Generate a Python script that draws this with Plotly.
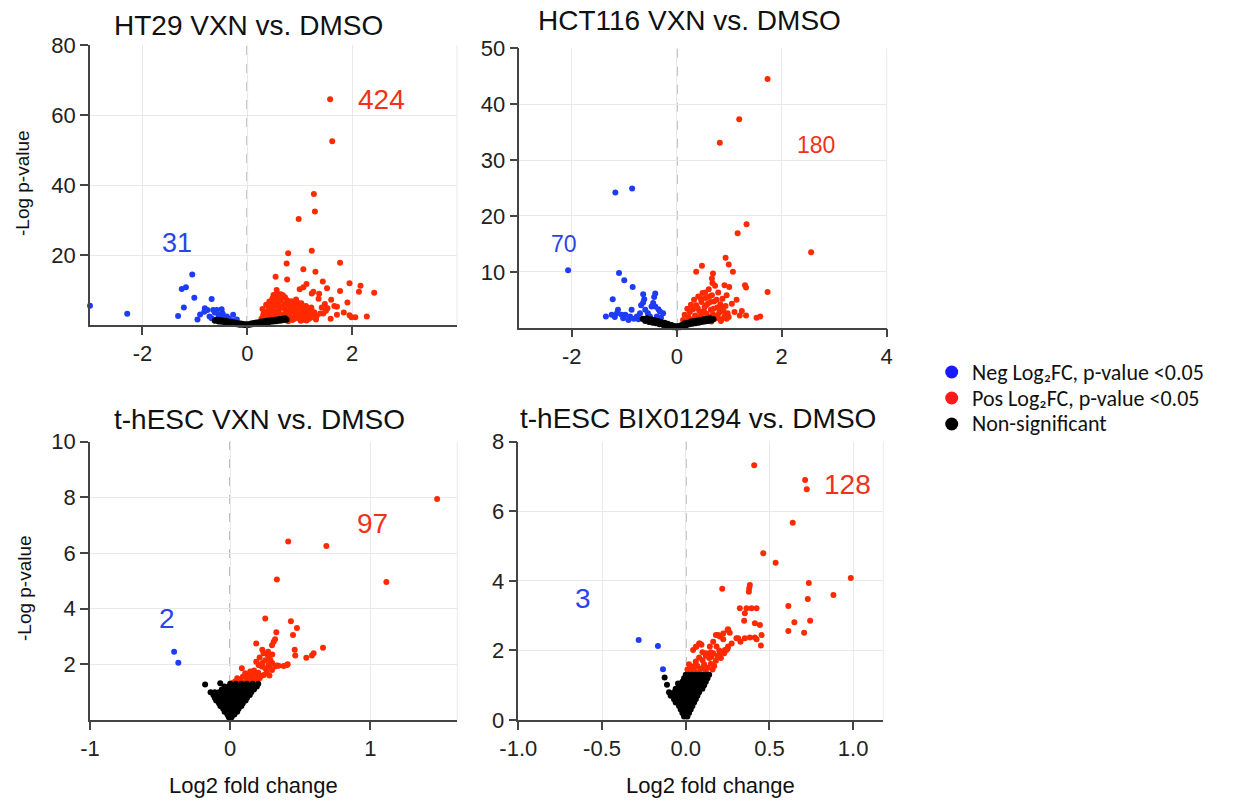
import plotly.graph_objects as go

W, H = 1242, 801

# ---------------- data (log2 fold change, -log p-value) ----------------
ht29_neg = [(-3.0, 5.5), (-2.29, 3.2), (-1.05, 14.4), (-1.25, 10.3), (-1.17, 10.8), (-1.01, 7.8),
            (-1.21, 5.0), (-1.32, 2.6), (-0.95, 1.6), (-0.68, 7.4), (-0.81, 4.8), (-0.82, 3.8),
            (-0.76, 4.3), (-0.58, 4.3), (-0.49, 4.5), (-0.47, 3.3), (-0.68, 1.9), (-0.55, 2.9),
            (-0.27, 2.9), (-0.20, 1.6), (-0.39, 2.4), (-0.65, 4.3), (-0.60, 1.5), (-0.45, 1.2),
            (-0.35, 1.8), (-0.90, 3.0), (-0.72, 2.4), (-0.52, 2.2), (-0.30, 1.3), (-0.62, 3.6), (-0.42, 2.0)]
ht29_pos = [(1.58, 64.5), (1.62, 52.5), (1.27, 37.4), (1.29, 32.4), (0.98, 30.3), (0.78, 20.5), (1.23, 21.2),
            (0.75, 17.6), (1.77, 17.8), (1.07, 15.9), (1.30, 15.2), (0.54, 13.8), (0.76, 13.0), (1.44, 12.4),
            (1.95, 11.9), (2.16, 11.2), (2.13, 9.5), (2.42, 9.2), (1.77, 9.7), (1.52, 10.5), (1.13, 11.7),
            (1.00, 10.2), (1.07, 10.8), (1.23, 9.0), (1.37, 8.9), (0.56, 10.0), (1.91, 6.4), (1.71, 5.2),
            (1.48, 6.0), (1.53, 4.8), (1.42, 5.0), (1.71, 2.9), (1.95, 2.8), (2.06, 2.2), (1.99, 2.2),
            (2.28, 2.4), (1.59, 1.8), (1.45, 3.3), (1.50, 4.1), (1.32, 2.4), (1.39, 3.3), (1.26, 9.5),
            (1.36, 7.5), (1.60, 7.2), (1.84, 3.6), (1.66, 5.4),
            (0.27, 1.8), (0.31, 3.2), (0.29, 4.6), (0.34, 2.4), (0.36, 5.8), (0.38, 1.2), (0.41, 3.9),
            (0.42, 6.7), (0.45, 2.1), (0.47, 4.8), (0.48, 7.6), (0.51, 1.5), (0.52, 3.3), (0.54, 5.5),
            (0.55, 8.2), (0.57, 2.6), (0.59, 6.3), (0.60, 4.1), (0.62, 1.3), (0.63, 7.4), (0.65, 3.0),
            (0.66, 5.2), (0.68, 8.5), (0.70, 2.2), (0.71, 6.0), (0.72, 4.4), (0.74, 1.6), (0.76, 7.1),
            (0.77, 3.5), (0.79, 5.6), (0.81, 2.4), (0.83, 4.7), (0.84, 6.8), (0.86, 1.4), (0.88, 3.8),
            (0.90, 5.9), (0.92, 2.9), (0.93, 7.3), (0.95, 4.3), (0.97, 1.9), (0.99, 5.1), (1.01, 3.2),
            (1.03, 6.2), (1.05, 2.3), (1.06, 4.6), (1.08, 1.5), (1.10, 3.7), (1.12, 5.4), (1.14, 2.6),
            (1.16, 4.0), (1.18, 1.8), (1.20, 3.1), (1.22, 5.0), (1.25, 2.2), (1.28, 3.6), (1.31, 1.6),
            (0.33, 1.1), (0.39, 2.8), (0.44, 4.3), (0.49, 6.0), (0.53, 2.0), (0.58, 3.6), (0.61, 5.0),
            (0.64, 6.9), (0.67, 2.7), (0.69, 4.9), (0.73, 3.1), (0.75, 5.3), (0.78, 1.1), (0.80, 6.1),
            (0.82, 3.9), (0.85, 2.0), (0.87, 5.0), (0.89, 1.7), (0.91, 4.4), (0.94, 3.4), (0.96, 6.4),
            (0.98, 2.5), (1.00, 4.0), (1.02, 1.2), (1.04, 5.7), (1.07, 3.0), (1.09, 2.0), (1.11, 4.7),
            (1.13, 1.3), (1.15, 3.3), (1.19, 2.6), (1.23, 4.2), (0.30, 2.5), (0.35, 3.7), (0.40, 5.2),
            (0.46, 3.0), (0.50, 4.1), (0.56, 6.8), (0.66, 1.9), (0.72, 7.9), (0.57, 9.0), (0.64, 8.8),
            (0.50, 8.6)]
ht29_ns = [(-0.62, 1.2), (-0.58, 1.5), (-0.55, 1.0), (-0.52, 1.4), (-0.50, 0.9), (-0.47, 1.3), (-0.44, 0.8),
           (-0.42, 1.2), (-0.40, 0.6), (-0.37, 1.0), (-0.35, 0.5), (-0.32, 0.9), (-0.30, 0.4), (-0.27, 0.8),
           (-0.25, 0.3), (-0.22, 0.6), (-0.20, 0.2), (-0.17, 0.5), (-0.15, 0.1), (-0.12, 0.4), (-0.10, 0.1),
           (-0.07, 0.3), (-0.05, 0.0), (-0.02, 0.2), (0.00, 0.0), (0.02, 0.2), (0.05, 0.1), (0.07, 0.4),
           (0.10, 0.2), (0.12, 0.6), (0.15, 0.3), (0.17, 0.7), (0.20, 0.4), (0.22, 0.8), (0.25, 0.5),
           (0.27, 1.0), (0.30, 0.6), (0.32, 1.1), (0.35, 0.7), (0.37, 1.2), (0.40, 0.8), (0.42, 1.3),
           (0.45, 0.9), (0.47, 1.4), (0.50, 1.0), (0.52, 1.5), (0.55, 1.1), (0.57, 1.6), (0.60, 1.2),
           (0.62, 1.7), (0.65, 1.3), (0.67, 1.8), (0.70, 1.4), (0.72, 1.9), (0.75, 1.5)]

hct_neg = [(-1.17, 24.2), (-0.85, 24.9), (-2.07, 10.3), (-1.10, 9.8), (-1.00, 8.5), (-0.84, 7.3), (-1.22, 5.1),
           (-0.64, 6.0), (-0.62, 5.1), (-0.64, 4.5), (-0.41, 6.1), (-0.43, 5.5), (-0.48, 3.8), (-0.41, 3.8),
           (-1.12, 3.2), (-1.14, 2.6), (-1.35, 2.0), (-0.86, 3.2), (-0.70, 2.6), (-0.76, 2.0), (-0.89, 2.0),
           (-0.98, 2.3), (-1.05, 2.3), (-1.24, 2.3), (-0.26, 2.6), (-0.32, 2.9), (-0.38, 2.0), (-0.51, 2.0),
           (-0.57, 1.5), (-0.64, 1.5), (-0.73, 1.5), (-0.45, 4.4), (-0.35, 3.3), (-0.55, 2.6), (-0.82, 1.6),
           (-0.92, 1.4), (-1.02, 1.7), (-0.60, 3.2), (-0.30, 1.8), (-0.47, 1.4), (-1.18, 1.9), (-0.68, 4.0)]
hct_pos = [(1.73, 44.5), (1.19, 37.3), (0.82, 33.1), (1.33, 18.5), (1.16, 16.9), (2.56, 13.5), (0.93, 12.5),
           (0.99, 11.3), (0.48, 11.1), (0.37, 10.0), (1.07, 10.0), (0.69, 9.7), (0.67, 8.8), (1.30, 7.6),
           (1.32, 7.2), (1.00, 7.3), (1.73, 6.4), (1.14, 5.0), (1.24, 3.0), (1.32, 2.2), (1.52, 1.8),
           (1.59, 2.0), (0.91, 7.6), (1.05, 4.3), (1.10, 2.8), (1.20, 2.2), (0.95, 5.8),
           (0.12, 1.4), (0.15, 2.3), (0.18, 1.1), (0.20, 3.4), (0.22, 1.9), (0.25, 2.8), (0.27, 4.1),
           (0.29, 1.5), (0.31, 3.3), (0.33, 5.0), (0.35, 2.2), (0.37, 4.0), (0.39, 1.3), (0.41, 5.6),
           (0.43, 3.0), (0.45, 2.0), (0.47, 4.6), (0.49, 6.2), (0.51, 1.6), (0.53, 3.7), (0.55, 5.3),
           (0.57, 2.5), (0.59, 4.3), (0.61, 6.9), (0.63, 1.9), (0.65, 3.2), (0.67, 5.8), (0.69, 2.4),
           (0.71, 4.7), (0.73, 7.5), (0.75, 1.7), (0.77, 3.6), (0.79, 6.3), (0.81, 2.7), (0.83, 4.2),
           (0.85, 1.5), (0.87, 5.2), (0.89, 3.0), (0.91, 2.0), (0.93, 3.9), (0.95, 1.6), (0.97, 2.6),
           (0.99, 1.9), (0.26, 1.2), (0.34, 1.0), (0.44, 1.1), (0.52, 2.9), (0.58, 1.2), (0.66, 1.1),
           (0.72, 2.0), (0.84, 1.2), (0.40, 3.5), (0.48, 2.6), (0.56, 4.0), (0.64, 4.6), (0.70, 3.4),
           (0.78, 2.2), (0.86, 3.5), (0.62, 5.6), (0.54, 6.3), (0.76, 5.0), (0.68, 8.0), (0.46, 5.2)]
hct_ns = [(-0.65, 1.6), (-0.60, 1.2), (-0.57, 1.7), (-0.53, 1.0), (-0.50, 1.5), (-0.46, 0.9), (-0.43, 1.4),
          (-0.40, 0.8), (-0.36, 1.2), (-0.33, 0.6), (-0.30, 1.0), (-0.26, 0.5), (-0.23, 0.9), (-0.20, 0.3),
          (-0.17, 0.7), (-0.13, 0.2), (-0.10, 0.5), (-0.07, 0.1), (-0.04, 0.3), (0.00, 0.0), (0.03, 0.3),
          (0.06, 0.1), (0.09, 0.5), (0.12, 0.3), (0.15, 0.8), (0.18, 0.4), (0.21, 0.9), (0.24, 0.6),
          (0.27, 1.1), (0.30, 0.7), (0.33, 1.2), (0.36, 0.8), (0.39, 1.3), (0.42, 0.9), (0.45, 1.4),
          (0.48, 1.0), (0.51, 1.5), (0.54, 1.1), (0.57, 1.6), (0.60, 1.2), (0.63, 1.7), (0.66, 1.3), (0.70, 1.5)]

esc_neg = [(-0.40, 2.45), (-0.37, 2.06)]
esc_pos = [(1.476, 7.94), (0.414, 6.41), (0.686, 6.25), (0.333, 5.05), (1.114, 4.96), (0.25, 3.65),
           (0.433, 3.55), (0.476, 3.31), (0.329, 3.15), (0.448, 3.05), (0.31, 2.81), (0.32, 2.9),
           (0.186, 2.75), (0.662, 2.60), (0.595, 2.40), (0.583, 2.32), (0.543, 2.24), (0.46, 2.52),
           (0.464, 2.32), (0.405, 1.98), (0.381, 1.94), (0.333, 1.96), (0.298, 2.69), (0.229, 2.52),
           (0.238, 2.40), (0.262, 2.37), (0.274, 2.28), (0.286, 2.16), (0.186, 2.09), (0.202, 1.98),
           (0.226, 1.92), (0.25, 1.86), (0.274, 1.98), (0.298, 1.80), (0.321, 1.92), (0.345, 1.95),
           (0.41, 2.0), (0.083, 1.86), (0.107, 1.68), (0.143, 1.74), (0.167, 1.62), (0.19, 1.56),
           (0.131, 1.50), (0.071, 1.44), (0.036, 1.38), (0.019, 1.34), (0.05, 1.5), (0.09, 1.55),
           (0.12, 1.42), (0.15, 1.48), (0.18, 1.38), (0.21, 1.50), (0.24, 1.62), (0.10, 1.35),
           (0.14, 1.60), (0.17, 1.78), (0.20, 1.70), (0.22, 1.58), (0.26, 1.72), (0.28, 1.90),
           (0.23, 2.05), (0.21, 2.25), (0.27, 2.45), (0.30, 2.35), (0.06, 1.32), (0.16, 1.35),
           (0.195, 1.45), (0.125, 1.55), (0.30, 2.05), (0.25, 2.15), (0.28, 1.6)]
esc_ns = [(-0.01, 0.1), (0.01, 0.1), (-0.02, 0.2), (0.00, 0.2), (0.03, 0.2), (-0.04, 0.3), (-0.01, 0.3),
          (0.02, 0.3), (0.05, 0.3), (-0.05, 0.4), (-0.02, 0.4), (0.01, 0.4), (0.04, 0.4), (0.06, 0.4),
          (-0.07, 0.5), (-0.04, 0.5), (-0.01, 0.5), (0.02, 0.5), (0.05, 0.5), (0.08, 0.5),
          (-0.08, 0.6), (-0.05, 0.6), (-0.02, 0.6), (0.01, 0.6), (0.04, 0.6), (0.07, 0.6), (0.09, 0.6),
          (-0.10, 0.7), (-0.07, 0.7), (-0.04, 0.7), (-0.01, 0.7), (0.02, 0.7), (0.05, 0.7), (0.08, 0.7),
          (0.11, 0.7), (-0.11, 0.8), (-0.08, 0.8), (-0.05, 0.8), (-0.02, 0.8), (0.01, 0.8), (0.04, 0.8),
          (0.07, 0.8), (0.10, 0.8), (0.12, 0.8), (-0.12, 0.9), (-0.09, 0.9), (-0.06, 0.9), (-0.03, 0.9),
          (0.00, 0.9), (0.03, 0.9), (0.06, 0.9), (0.09, 0.9), (0.12, 0.9), (0.14, 0.9),
          (-0.14, 1.0), (-0.11, 1.0), (-0.08, 1.0), (-0.05, 1.0), (-0.02, 1.0), (0.01, 1.0), (0.04, 1.0),
          (0.07, 1.0), (0.10, 1.0), (0.13, 1.0), (0.15, 1.0), (-0.06, 1.1), (-0.03, 1.1), (0.00, 1.1),
          (0.03, 1.1), (0.06, 1.1), (0.09, 1.1), (0.12, 1.1), (0.15, 1.1), (0.17, 1.1),
          (-0.04, 1.2), (-0.01, 1.2), (0.02, 1.2), (0.05, 1.2), (0.08, 1.2), (0.11, 1.2), (0.14, 1.2),
          (0.17, 1.2), (0.19, 1.2), (0.00, 1.3), (0.04, 1.3), (0.08, 1.3), (0.12, 1.3), (0.16, 1.3),
          (0.20, 1.3), (-0.179, 1.28), (-0.071, 1.32), (-0.048, 0.98)]

bix_neg = [(-0.281, 2.30), (-0.166, 2.13), (-0.136, 1.46)]
bix_pos = [(0.409, 7.32), (0.713, 6.90), (0.723, 6.63), (0.639, 5.67), (0.463, 4.79), (0.537, 4.52),
           (0.986, 4.08), (0.735, 3.94), (0.882, 3.59), (0.729, 3.48), (0.613, 3.28), (0.743, 2.85),
           (0.649, 2.81), (0.613, 2.56), (0.707, 2.51), (0.218, 3.77), (0.383, 3.88), (0.379, 3.79),
           (0.377, 3.69), (0.323, 3.21), (0.363, 3.21), (0.393, 3.21), (0.423, 3.21), (0.353, 3.07),
           (0.349, 2.85), (0.413, 2.78), (0.443, 2.73), (0.453, 2.44), (0.449, 2.14), (0.413, 2.37),
           (0.383, 2.37), (0.353, 2.35), (0.253, 2.61), (0.224, 2.49), (0.204, 2.40), (0.18, 2.44),
           (0.164, 2.25), (0.303, 2.35), (0.274, 2.20), (0.253, 2.11), (0.234, 2.01), (0.204, 1.92),
           (0.184, 2.11), (0.154, 1.82), (0.124, 1.92), (0.094, 2.16), (0.064, 2.11), (0.044, 2.01),
           (0.084, 2.20), (0.25, 2.59), (0.263, 2.51), (0.194, 2.44), (0.224, 2.32), (0.313, 2.35),
           (0.327, 2.25), (0.423, 2.32), (0.144, 2.11), (0.243, 2.01), (0.164, 1.92), (0.124, 1.87),
           (0.01, 1.45), (0.03, 1.52), (0.05, 1.42), (0.07, 1.55), (0.09, 1.47), (0.11, 1.60),
           (0.13, 1.50), (0.15, 1.62), (0.17, 1.55), (0.02, 1.60), (0.06, 1.68), (0.10, 1.72),
           (0.14, 1.78), (0.18, 1.70), (0.04, 1.40), (0.08, 1.38), (0.12, 1.40), (0.16, 1.45),
           (0.19, 1.85), (0.12, 1.85), (0.08, 1.80), (0.21, 1.78), (0.23, 1.92), (0.05, 1.55),
           (0.11, 1.52), (0.20, 2.00), (0.06, 2.10), (0.08, 2.20), (0.15, 1.95), (0.25, 2.05), (0.10, 1.95)]
bix_ns = [(-0.01, 0.1), (0.01, 0.1), (-0.02, 0.2), (0.00, 0.2), (0.02, 0.2), (-0.03, 0.3), (-0.01, 0.3),
          (0.01, 0.3), (0.03, 0.3), (-0.04, 0.4), (-0.02, 0.4), (0.00, 0.4), (0.02, 0.4), (0.04, 0.4),
          (-0.06, 0.5), (-0.03, 0.5), (-0.01, 0.5), (0.01, 0.5), (0.03, 0.5), (0.05, 0.5),
          (-0.07, 0.6), (-0.05, 0.6), (-0.03, 0.6), (-0.01, 0.6), (0.01, 0.6), (0.03, 0.6), (0.05, 0.6),
          (0.06, 0.6), (-0.09, 0.7), (-0.06, 0.7), (-0.04, 0.7), (-0.02, 0.7), (0.00, 0.7), (0.02, 0.7),
          (0.04, 0.7), (0.06, 0.7), (0.07, 0.7), (-0.10, 0.8), (-0.07, 0.8), (-0.05, 0.8), (-0.03, 0.8),
          (-0.01, 0.8), (0.01, 0.8), (0.03, 0.8), (0.05, 0.8), (0.07, 0.8), (0.08, 0.8),
          (-0.06, 0.9), (-0.04, 0.9), (-0.02, 0.9), (0.00, 0.9), (0.02, 0.9), (0.04, 0.9), (0.06, 0.9),
          (0.08, 0.9), (0.10, 0.9), (-0.04, 1.0), (-0.02, 1.0), (0.00, 1.0), (0.02, 1.0), (0.04, 1.0),
          (0.06, 1.0), (0.08, 1.0), (0.10, 1.0), (0.11, 1.0), (-0.02, 1.1), (0.00, 1.1), (0.02, 1.1),
          (0.04, 1.1), (0.06, 1.1), (0.08, 1.1), (0.10, 1.1), (0.12, 1.1), (-0.01, 1.2), (0.01, 1.2),
          (0.03, 1.2), (0.05, 1.2), (0.07, 1.2), (0.09, 1.2), (0.11, 1.2), (0.13, 1.2), (0.00, 1.3),
          (0.02, 1.3), (0.04, 1.3), (0.06, 1.3), (0.08, 1.3), (0.10, 1.3), (0.12, 1.3), (0.14, 1.3),
          (-0.126, 1.22), (-0.112, 1.01), (-0.046, 1.05)]

panel_titles = ["HT29 VXN vs. DMSO", "HCT116 VXN vs. DMSO", "t-hESC VXN vs. DMSO", "t-hESC BIX01294 vs. DMSO"]
neg_counts = ["31", "70", "2", "3"]
pos_counts = ["424", "180", "97", "128"]
legend_names = ["Neg Log\u2082FC, p-value &lt;0.05", "Pos Log\u2082FC, p-value &lt;0.05", "Non-significant"]

x_ranges = [[-3, 4], [-3, 4], [-1, 1.62], [-1, 1.18]]
y_ranges = [[0, 80], [0, 50], [0, 10], [0, 8]]
x_ticks = [[-2, 0, 2], [-2, 0, 2, 4], [-1, 0, 1], [-1, -0.5, 0, 0.5, 1]]
x_ticktext = [["-2", "0", "2"], ["-2", "0", "2", "4"], ["-1", "0", "1"], ["-1.0", "-0.5", "0.0", "0.5", "1.0"]]
y_ticks = [[20, 40, 60, 80], [10, 20, 30, 40, 50], [2, 4, 6, 8, 10], [0, 2, 4, 6, 8]]

# ---------------- styling / layout ----------------
BLUE = "#1f3cf5"
RED = "#ff2a00"
BLACK = "#000000"
LEG_COLORS = ["#1a1aff", "#ff1a1a", "#000000"]
FONT = "Liberation Sans, Arial, Helvetica, sans-serif"
LEG_FONT = "Carlito, Lato, Open Sans, sans-serif"

# panel boxes in pixels: (left, right, top, bottom)
boxes = [(90, 457, 45, 325), (519.3, 886.7, 48.3, 327.7), (90, 457.3, 441.7, 720), (518.3, 883.3, 441.7, 720)]


def px(x):
    return x / W


def py(y):
    return 1 - y / H


fig = go.Figure()
panels = [(ht29_neg, ht29_pos, ht29_ns), (hct_neg, hct_pos, hct_ns),
          (esc_neg, esc_pos, esc_ns), (bix_neg, bix_pos, bix_ns)]

for i, (neg, pos, ns) in enumerate(panels):
    xa = "x" if i == 0 else f"x{i+1}"
    ya = "y" if i == 0 else f"y{i+1}"
    for pts, col in ((neg, BLUE), (pos, RED), (ns, BLACK)):
        fig.add_trace(go.Scatter(
            x=[p[0] for p in pts], y=[p[1] for p in pts], mode="markers",
            marker=dict(color=col, size=6, line=dict(width=0)),
            xaxis=xa, yaxis=ya, showlegend=False, cliponaxis=False, hoverinfo="skip"))

layout = dict(
    template="none",
    width=W, height=H, margin=dict(l=0, r=0, t=0, b=0, pad=0, autoexpand=False),
    paper_bgcolor="white", plot_bgcolor="white",
    font=dict(family=FONT, color="#1a1a1a"),
    showlegend=False,
)

shapes = []
annotations = []
for i, (l, r, t, b) in enumerate(boxes):
    sfx = "" if i == 0 else str(i + 1)
    axis_common = dict(showline=True, linecolor="#444", linewidth=1.5, ticks="outside", ticklen=8,
                       tickwidth=1.5, tickcolor="#444", showgrid=True, gridcolor="#e9e9e9", gridwidth=1,
                       zeroline=False, automargin=False,
                       tickfont=dict(family=FONT, size=22, color="#222"), fixedrange=True)
    layout["xaxis" + sfx] = dict(axis_common, domain=[px(l), px(r)], range=x_ranges[i],
                                 tickvals=x_ticks[i], ticktext=x_ticktext[i],
                                 anchor="y" + sfx)
    layout["yaxis" + sfx] = dict(axis_common, domain=[py(b), py(t)], range=y_ranges[i],
                                 tickvals=y_ticks[i], anchor="x" + sfx)
    xr = "x" + sfx
    yr = "y" + sfx
    shapes.append(dict(type="line", xref=xr + " domain", yref=yr + " domain", x0=1, x1=1, y0=0, y1=1,
                       line=dict(color="#e9e9e9", width=1), layer="below"))
    shapes.append(dict(type="line", xref=xr, yref=yr + " domain", x0=0, x1=0, y0=0, y1=1,
                       line=dict(color="#8c8c8c", width=1.5, dash="dash"), layer="below"))

title_pos = [(248, 26), (689, 21), (259, 420), (698, 418)]
for (x, y), txt in zip(title_pos, panel_titles):
    annotations.append(dict(x=px(x), y=py(y), xref="paper", yref="paper", text=txt, showarrow=False,
                            xanchor="center", yanchor="middle", font=dict(family=FONT, size=28, color="#111")))

neg_pos = [(176.5, 243, 27), (564, 244, 23), (167.5, 618, 28), (583, 598, 28)]
pos_pos = [(381.7, 100, 28), (815.5, 145, 23), (372, 523, 28), (847.5, 484, 28)]
for (x, y, s), txt in zip(neg_pos, neg_counts):
    annotations.append(dict(x=px(x), y=py(y), xref="paper", yref="paper", text=txt, showarrow=False,
                            xanchor="center", yanchor="middle", font=dict(family=FONT, size=s, color="#2a45e6")))
for (x, y, s), txt in zip(pos_pos, pos_counts):
    annotations.append(dict(x=px(x), y=py(y), xref="paper", yref="paper", text=txt, showarrow=False,
                            xanchor="center", yanchor="middle", font=dict(family=FONT, size=s, color="#f0321a")))

for (x, y) in [(22, 183), (24, 588)]:
    annotations.append(dict(x=px(x), y=py(y), xref="paper", yref="paper", text="-Log p-value", showarrow=False,
                            textangle=-90, xanchor="center", yanchor="middle",
                            font=dict(family=FONT, size=19, color="#111")))
for (x, y) in [(253, 785), (710, 785)]:
    annotations.append(dict(x=px(x), y=py(y), xref="paper", yref="paper", text="Log2 fold change",
                            showarrow=False, xanchor="center", yanchor="middle",
                            font=dict(family=FONT, size=22, color="#111")))

# legend (marker circles + text, to match the tight line spacing of the original)
leg_rows = [372, 398, 424]
for yy, name, col in zip(leg_rows, legend_names, LEG_COLORS):
    r = 6.5
    shapes.append(dict(type="circle", xref="paper", yref="paper",
                       x0=px(951.7 - r), x1=px(951.7 + r), y0=py(yy + r), y1=py(yy - r),
                       fillcolor=col, line=dict(width=0)))
    annotations.append(dict(x=px(971), y=py(yy), xref="paper", yref="paper", text=name, showarrow=False,
                            xanchor="left", yanchor="middle", borderpad=0,
                            font=dict(family=LEG_FONT, size=22, color="#111")))

layout["shapes"] = shapes
layout["annotations"] = annotations
fig.update_layout(**layout)
fig.write_html("out.html", config={"displayModeBar": False},
               post_script="document.body.style.margin='0px';")
